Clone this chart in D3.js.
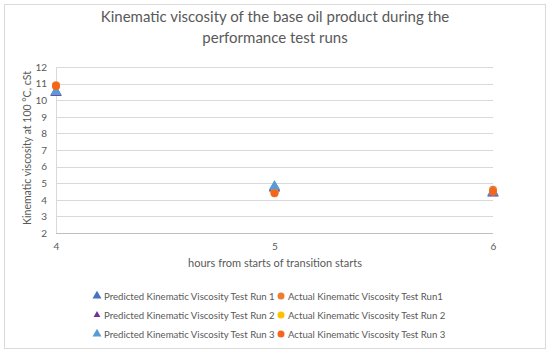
<!DOCTYPE html>
<html>
<head>
<meta charset="utf-8">
<script src="https://cdn.jsdelivr.net/npm/d3@7"></script>
<style>
  body { margin: 0; background: #fff; }
  svg text { font-family: Lato, "Open Sans", sans-serif; fill: #595959; }
</style>
</head>
<body>
<svg id="chart" width="550" height="354"></svg>
<script>
// data
var hours = [4, 5, 6];
var yTicks = [2, 3, 4, 5, 6, 7, 8, 9, 10, 11, 12];
var predictedRun1 = [10.5, 4.75, 4.45];
var actualRun1 = [10.9, 4.5, 4.6];
var predictedRun2 = [10.45, 4.7, 4.4];
var actualRun2 = [10.85, 4.45, 4.5];
var predictedRun3 = [10.5, 4.8, 4.45];
var actualRun3 = [10.85, 4.4, 4.5];

var series = [
    {name: 'Predicted Kinematic Viscosity Test Run 1', values: predictedRun1, shape: 'tri', color: '#4472c4', size: 8},
    {name: 'Actual Kinematic Viscosity Test Run1', values: actualRun1, shape: 'circle', color: '#ed7d31', size: 7},
    {name: 'Predicted Kinematic Viscosity Test Run 2', values: predictedRun2, shape: 'tri', color: '#7030a0', size: 6},
    {name: 'Actual Kinematic Viscosity Test Run 2', values: actualRun2, shape: 'circle', color: '#ffc000', size: 7},
    {name: 'Predicted Kinematic Viscosity Test Run 3', values: predictedRun3, shape: 'tri', color: '#5b9bd5', size: 8},
    {name: 'Actual Kinematic Viscosity Test Run 3', values: actualRun3, shape: 'circle', color: '#f4661b', size: 7}
];

var svg = d3.select('#chart');
var pad = [67, 57, 121, 56]; // top, right, bottom, left
var W = 550, H = 354;

svg.append('rect')
    .attr('x', 4.5).attr('y', 4.5)
    .attr('width', 541).attr('height', 344)
    .attr('fill', '#fff').attr('stroke', '#d9d9d9');

var xScale = d3.scaleLinear().domain([4, 6]).range([pad[3], W - pad[1]]);
var yScale = d3.scaleLinear().domain([2, 12]).range([H - pad[2], pad[0]]);

// gridlines
svg.append('g').attr('class', 'grid')
    .selectAll('line').data(yTicks).enter().append('line')
    .attr('x1', pad[3]).attr('x2', W - pad[1])
    .attr('y1', function (d) { return Math.round(yScale(d)) + 0.5; })
    .attr('y2', function (d) { return Math.round(yScale(d)) + 0.5; })
    .attr('stroke', function (d) { return d === 2 ? '#bfbfbf' : '#d9d9d9'; });

svg.append('line')
    .attr('x1', pad[3] + 0.5).attr('x2', pad[3] + 0.5)
    .attr('y1', yScale(12)).attr('y2', yScale(2))
    .attr('stroke', '#d9d9d9');

// axes
var yAxis = d3.axisLeft(yScale).tickValues(yTicks).tickSize(0).tickPadding(9);
var gy = svg.append('g').attr('transform', 'translate(' + pad[3] + ',0)').call(yAxis);
gy.select('.domain').remove();
gy.selectAll('text').style('font-size', '10px');

var xAxis = d3.axisBottom(xScale).tickValues(hours).tickFormat(d3.format('d')).tickSize(0).tickPadding(10);
var gx = svg.append('g').attr('transform', 'translate(0,' + yScale(2) + ')').call(xAxis);
gx.select('.domain').remove();
gx.selectAll('text').style('font-size', '10px');

// titles
svg.append('text').attr('x', 275).attr('y', 22).attr('text-anchor', 'middle')
    .style('font-size', '15px').text('Kinematic viscosity of the base oil product during the');
svg.append('text').attr('x', 275).attr('y', 43).attr('text-anchor', 'middle')
    .style('font-size', '15px').text('performance test runs');
svg.append('text').attr('x', 275).attr('y', 267).attr('text-anchor', 'middle')
    .style('font-size', '11px').text('hours from starts of transition starts');
svg.append('text')
    .attr('transform', 'translate(31,' + (yScale(7) - 2) + ') rotate(-90)')
    .attr('text-anchor', 'middle')
    .style('font-size', '10.5px').text('Kinematic viscosity at 100 °C, cSt');

function marker(sel, d, size) {
    if (d.shape === 'tri') {
        sel.append('path')
            .attr('d', d3.symbol().type(d3.symbolTriangle).size(size * size * 0.55))
            .attr('fill', d.color);
    } else {
        sel.append('circle').attr('r', size / 2).attr('fill', d.color);
    }
}

// points
series.forEach(function (s) {
    var g = svg.append('g').attr('class', 'series');
    s.values.forEach(function (v, i) {
        var p = g.append('g')
            .attr('transform', 'translate(' + xScale(hours[i]) + ',' + yScale(v) + ')');
        marker(p, s, s.shape === 'tri' ? 10 : 8);
    });
});

// legend
var legend = svg.append('g').attr('class', 'legend');
series.forEach(function (s, i) {
    var row = Math.floor(i / 2), col = i % 2;
    var lx = col ? 281 : 97, ly = 296 + row * 19;
    var m = legend.append('g').attr('transform', 'translate(' + lx + ',' + ly + ')');
    marker(m, s, s.size);
    legend.append('text').attr('x', lx + 7).attr('y', ly + 3.5)
        .style('font-size', '9.6px').text(s.name);
});
</script>
</body>
</html>
